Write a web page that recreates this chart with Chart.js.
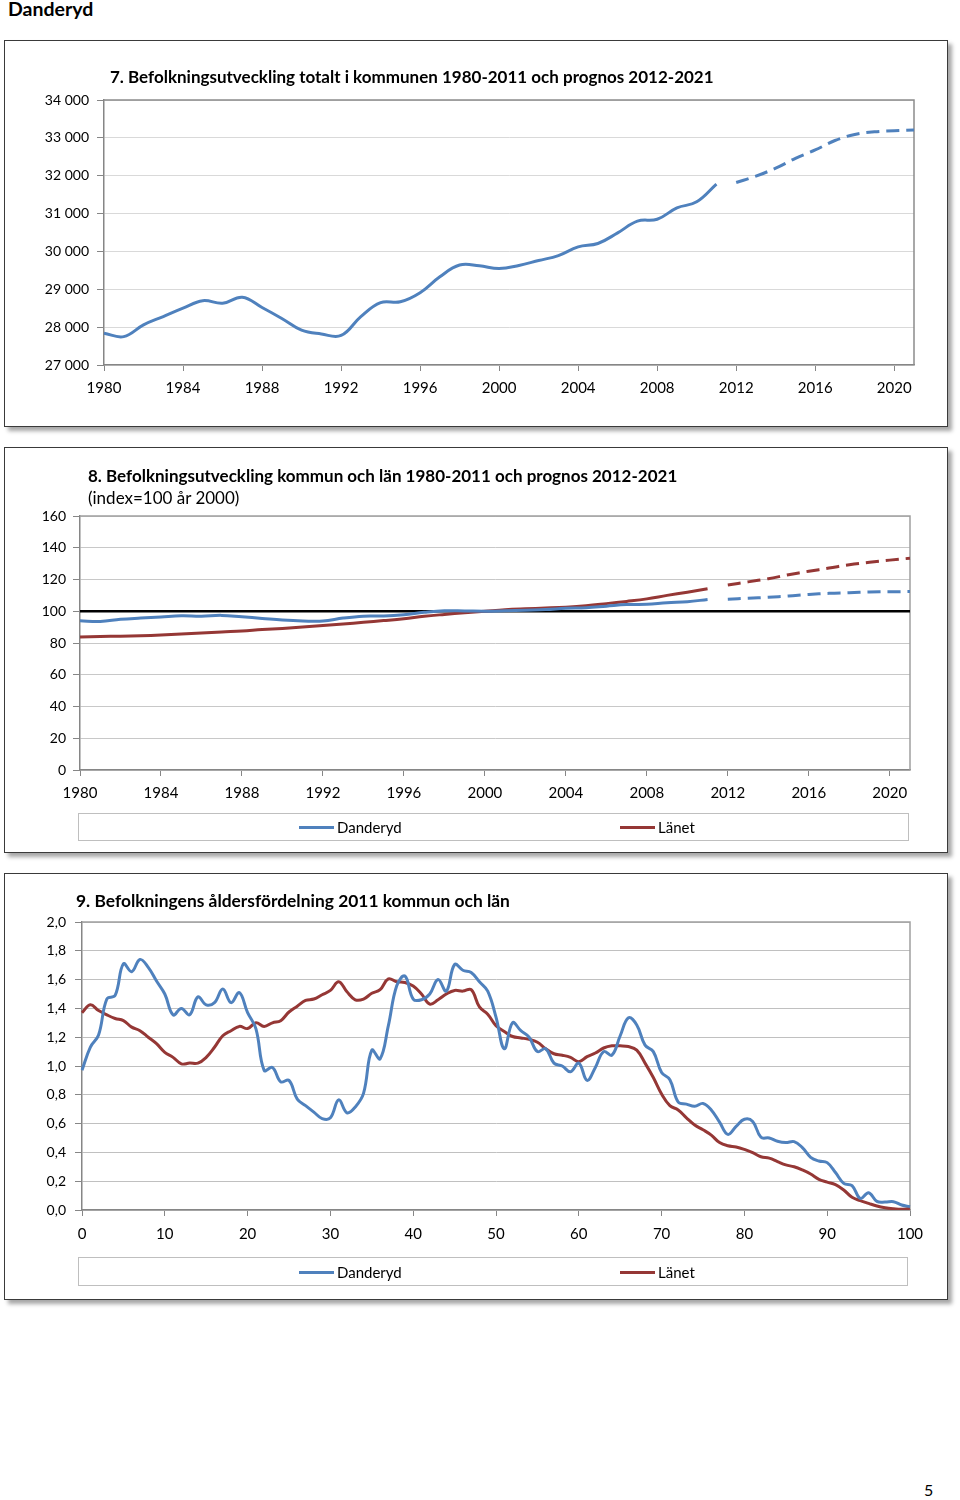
<!DOCTYPE html>
<html><head><meta charset="utf-8">
<script src="https://cdn.jsdelivr.net/npm/chart.js@4.4.1/dist/chart.umd.min.js"></script>
<style>
html,body{margin:0;padding:0;background:#fff;}
body{width:960px;height:1500px;position:relative;font-family:Lato,'Open Sans',sans-serif;color:#000;overflow:hidden;}
.box{position:absolute;left:4px;width:944px;border:1.5px solid #3a3a3a;box-sizing:border-box;box-shadow:4px 4px 4px rgba(0,0,0,0.35);background:#fff;}
canvas{position:absolute;}
.title{position:absolute;font-weight:bold;font-size:17px;white-space:nowrap;line-height:20px;}
.sub{position:absolute;font-size:17px;white-space:nowrap;line-height:20px;}
.legend{position:absolute;border:1px solid #BFBFBF;box-sizing:border-box;}
.litem{position:absolute;font-size:15px;line-height:18px;white-space:nowrap;}
.swatch{position:absolute;height:3px;width:35px;}
</style></head>
<body>
<div class="title" style="left:8px;top:-2px;font-size:19.5px;line-height:22px;">Danderyd</div>

<div class="box" style="top:40px;height:387px;"></div>
<canvas id="c1" width="940" height="383" style="left:6px;top:42px;"></canvas>
<div class="title" style="left:110px;top:67px;">7. Befolkningsutveckling totalt i kommunen 1980-2011 och prognos 2012-2021</div>

<div class="box" style="top:447px;height:406px;"></div>
<canvas id="c2" width="940" height="402" style="left:6px;top:449px;"></canvas>
<div class="title" style="left:88px;top:466px;">8. Befolkningsutveckling kommun och län 1980-2011 och prognos 2012-2021</div>
<div class="sub" style="left:88px;top:488px;">(index=100 år 2000)</div>
<div class="legend" style="left:78px;top:813px;width:831px;height:28px;"></div>
<div class="swatch" style="left:299px;top:826px;background:#4F81BD;"></div>
<div class="litem" style="left:337px;top:818px;">Danderyd</div>
<div class="swatch" style="left:620px;top:826px;background:#953735;"></div>
<div class="litem" style="left:658px;top:818px;">Länet</div>

<div class="box" style="top:873px;height:427px;"></div>
<canvas id="c3" width="940" height="423" style="left:6px;top:875px;"></canvas>
<div class="title" style="left:76px;top:891px;font-size:17.4px;">9. Befolkningens åldersfördelning 2011 kommun och län</div>
<div class="legend" style="left:78px;top:1257px;width:830px;height:29px;"></div>
<div class="swatch" style="left:299px;top:1271px;background:#4F81BD;"></div>
<div class="litem" style="left:337px;top:1263px;">Danderyd</div>
<div class="swatch" style="left:620px;top:1271px;background:#953735;"></div>
<div class="litem" style="left:658px;top:1263px;">Länet</div>

<div class="sub" style="left:924px;top:1480px;font-size:16px;">5</div>

<script>
// ---------- DATA ----------
const years = [1980,1981,1982,1983,1984,1985,1986,1987,1988,1989,1990,1991,1992,1993,1994,1995,1996,1997,1998,1999,2000,2001,2002,2003,2004,2005,2006,2007,2008,2009,2010,2011,2012,2013,2014,2015,2016,2017,2018,2019,2020,2021];

// Chart 7: population total (1980-2011 actual, 2012-2021 forecast)
const popActual = [27840,27750,28060,28280,28500,28700,28630,28790,28520,28230,27920,27820,27780,28280,28650,28670,28910,29330,29640,29620,29550,29630,29760,29890,30120,30210,30490,30800,30850,31150,31310,31780];
const popForecast = [31820,31990,32200,32460,32680,32930,33090,33160,33190,33210];

// Chart 8: index (100 = year 2000)
const idxDanderydActual = [94.0,93.6,94.9,95.7,96.4,97.1,96.9,97.4,96.5,95.5,94.5,93.9,93.8,95.7,96.9,97.0,97.8,99.3,100.3,100.2,100.0,100.3,100.7,101.1,101.9,102.2,103.2,104.2,104.4,105.4,106.0,107.4];
const idxDanderydForecast = [107.5,108.2,108.8,109.6,110.6,111.3,111.7,112.1,112.3,112.4];
const idxLanetActual = [83.8,84.1,84.3,84.6,85.0,85.6,86.3,87.0,87.6,88.5,89.2,90.1,91.0,92.0,93.0,94.1,95.3,96.8,98.0,99.1,100.0,100.9,101.5,102.0,102.6,103.5,104.8,106.2,107.8,110.0,112.0,114.2];
const idxLanetForecast = [116.5,118.5,120.5,123.0,125.2,127.2,129.3,130.8,132.2,133.4];
const INDEX_BASE = 100;

// Chart 9: age distribution 2011 (percent per one-year age group)
const ages = [0,1,2,3,4,5,6,7,8,9,10,11,12,13,14,15,16,17,18,19,20,21,22,23,24,25,26,27,28,29,30,31,32,33,34,35,36,37,38,39,40,41,42,43,44,45,46,47,48,49,50,51,52,53,54,55,56,57,58,59,60,61,62,63,64,65,66,67,68,69,70,71,72,73,74,75,76,77,78,79,80,81,82,83,84,85,86,87,88,89,90,91,92,93,94,95,96,97,98,99,100];
const ageDanderyd = [0.97,1.13,1.215,1.465,1.49,1.71,1.655,1.74,1.685,1.59,1.50,1.355,1.40,1.355,1.48,1.425,1.44,1.535,1.44,1.51,1.37,1.26,0.97,0.99,0.89,0.90,0.77,0.725,0.68,0.635,0.64,0.765,0.675,0.715,0.81,1.11,1.05,1.28,1.555,1.625,1.465,1.46,1.50,1.60,1.52,1.705,1.665,1.65,1.585,1.52,1.34,1.12,1.30,1.245,1.20,1.10,1.12,1.02,1.00,0.96,1.02,0.90,0.99,1.10,1.075,1.21,1.335,1.285,1.145,1.10,0.955,0.905,0.75,0.735,0.72,0.74,0.695,0.61,0.525,0.58,0.63,0.615,0.505,0.50,0.477,0.468,0.475,0.433,0.366,0.34,0.329,0.26,0.185,0.17,0.08,0.12,0.06,0.055,0.058,0.035,0.023];
const ageLanet = [1.37,1.425,1.385,1.355,1.33,1.315,1.27,1.245,1.20,1.155,1.095,1.06,1.015,1.02,1.02,1.06,1.13,1.21,1.245,1.275,1.26,1.30,1.275,1.30,1.315,1.375,1.415,1.455,1.465,1.495,1.525,1.585,1.515,1.46,1.465,1.505,1.53,1.605,1.585,1.58,1.555,1.50,1.43,1.46,1.50,1.525,1.52,1.53,1.41,1.36,1.28,1.24,1.205,1.195,1.185,1.165,1.12,1.085,1.075,1.06,1.03,1.065,1.09,1.125,1.14,1.14,1.135,1.11,1.02,0.92,0.805,0.725,0.695,0.64,0.59,0.557,0.52,0.468,0.446,0.438,0.421,0.398,0.37,0.36,0.336,0.313,0.30,0.278,0.25,0.213,0.194,0.176,0.139,0.088,0.065,0.046,0.028,0.016,0.009,0.005,0.012];

// ---------- STYLE ----------
const BLUE = '#4F81BD';
const RED = '#953735';
const AXIS = '#868686';
Chart.defaults.font.family = 'Lato, "Open Sans", sans-serif';
Chart.defaults.color = '#000';
Chart.defaults.animation = false;

const plotFrame = {
  id: 'plotFrame',
  beforeDatasetsDraw(chart, args, opts) {
    const a = chart.chartArea, ctx = chart.ctx;
    ctx.save();
    ctx.strokeStyle = opts.color || '#999';
    ctx.lineWidth = opts.width || 1.5;
    ctx.beginPath();
    ctx.moveTo(a.left, a.top);
    ctx.lineTo(a.right, a.top);
    ctx.lineTo(a.right, a.bottom);
    ctx.stroke();
    ctx.restore();
  }
};

function fmtThousands(v) { return String(v).replace(/\B(?=(\d{3})+(?!\d))/g, ' '); }

function lineDs(points, color, dashed) {
  return {
    data: points, borderColor: color, backgroundColor: color,
    borderWidth: 3, pointRadius: 0, tension: 0.4, fill: false,
    borderDash: dashed ? [13, 7] : [], spanGaps: false
  };
}
function pts(cats, vals, offset) {
  return vals.map((v, i) => ({ x: String(cats[offset + i]), y: v }));
}

function makeChart(id, cfg) {
  return new Chart(document.getElementById(id), {
    type: 'line',
    data: { labels: cfg.labels.map(String), datasets: cfg.datasets },
    plugins: [plotFrame],
    options: {
      responsive: false,
      devicePixelRatio: 1,
      layout: { padding: cfg.padding },
      plugins: { legend: { display: false }, tooltip: { enabled: false }, plotFrame: { color: cfg.frameColor, width: 1.5 } },
      scales: {
        x: {
          type: 'category', offset: false,
          afterFit(s) { s.height = cfg.xHeight; },
          grid: { drawOnChartArea: false, drawTicks: true, tickLength: 6,
                  tickColor: (c) => (cfg.labels[c.index] % cfg.every === 0 ? AXIS : 'rgba(0,0,0,0)') },
          border: { color: AXIS, width: 1.5 },
          ticks: { autoSkip: false, maxRotation: 0, padding: cfg.xPad, font: { size: 15 },
                   callback: (v, i) => (cfg.labels[i] % cfg.every === 0 ? String(cfg.labels[i]) : '') }
        },
        y: {
          min: cfg.yMin, max: cfg.yMax,
          afterFit(s) { s.width = cfg.yWidth; },
          grid: { color: cfg.gridColor, lineWidth: 1, tickLength: 7, tickColor: AXIS, drawTicks: true },
          border: { color: AXIS, width: 1.5 },
          ticks: { stepSize: cfg.step, padding: cfg.yPad, font: { size: 14 }, callback: cfg.yFmt }
        }
      }
    }
  });
}

// Chart 7
makeChart('c1', {
  labels: years, every: 4,
  datasets: [
    lineDs(pts(years, popActual, 0), BLUE, false),
    lineDs(pts(years, popForecast, popActual.length), BLUE, true)
  ],
  padding: { left: 0, right: 32, top: 58, bottom: 20 },
  xHeight: 40, yWidth: 98, xPad: 8, yPad: 8,
  yMin: 27000, yMax: 34000, step: 1000, yFmt: (v) => fmtThousands(v),
  gridColor: '#D9D9D9', frameColor: '#8C8C8C'
});

// Chart 8
makeChart('c2', {
  labels: years, every: 4,
  datasets: [
    lineDs(pts(years, idxDanderydActual, 0), BLUE, false),
    lineDs(pts(years, idxLanetActual, 0), RED, false),
    lineDs(pts(years, idxDanderydForecast, idxDanderydActual.length), BLUE, true),
    lineDs(pts(years, idxLanetForecast, idxLanetActual.length), RED, true),
    { data: [{ x: String(years[0]), y: INDEX_BASE }, { x: String(years[years.length - 1]), y: INDEX_BASE }],
      borderColor: '#000', borderWidth: 2.5, pointRadius: 0, tension: 0 }
  ],
  padding: { left: 0, right: 36, top: 67, bottom: 41 },
  xHeight: 40, yWidth: 74, xPad: 8, yPad: 7,
  yMin: 0, yMax: 160, step: 20, yFmt: (v) => String(v),
  gridColor: '#C8C8C8', frameColor: '#A0A0A0'
});

// Chart 9
makeChart('c3', {
  labels: ages, every: 10,
  datasets: [
    lineDs(pts(ages, ageDanderyd, 0), BLUE, false),
    lineDs(pts(ages, ageLanet, 0), RED, false)
  ],
  padding: { left: 0, right: 36, top: 47, bottom: 48 },
  xHeight: 40, yWidth: 76, xPad: 9, yPad: 9,
  yMin: 0, yMax: 2, step: 0.2, yFmt: (v) => v.toFixed(1).replace('.', ','),
  gridColor: '#C0C0C0', frameColor: '#A0A0A0'
});
</script>
</body></html>
